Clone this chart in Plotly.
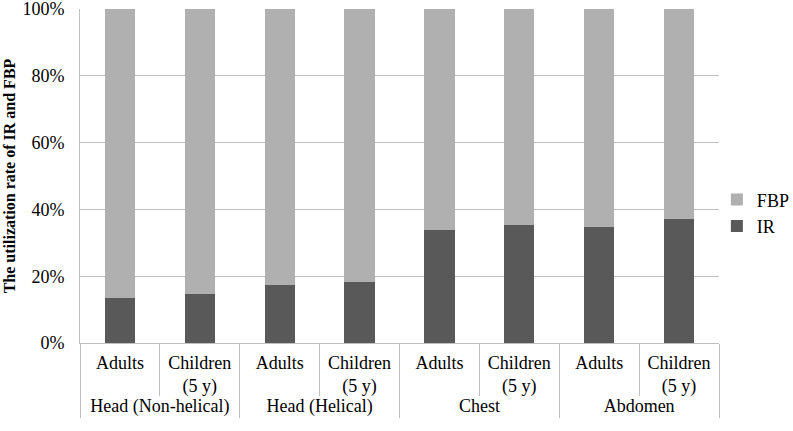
import plotly.graph_objects as go

groups = ["Head (Non-helical)", "Head (Non-helical)", "Head (Helical)", "Head (Helical)",
          "Chest", "Chest", "Abdomen", "Abdomen"]
subgroups = ["Adults", "Children<br>(5 y)"] * 4
ir = [0.136, 0.146, 0.174, 0.184, 0.337, 0.352, 0.347, 0.370]
fbp = [1 - v for v in ir]
y_ticks = [0, 0.2, 0.4, 0.6, 0.8, 1.0]
y_tick_text = ["0%", "20%", "40%", "60%", "80%", "100%"]

FONT = "Liberation Serif"
GRID = "#bfbfbf"

fig = go.Figure()
fig.add_trace(go.Bar(x=[groups, subgroups], y=ir, name="IR", marker_color="#595959",
                     marker_line_width=0))
fig.add_trace(go.Bar(x=[groups, subgroups], y=fbp, name="FBP", marker_color="#b0b0b0",
                     marker_line_width=0))

fig.update_layout(
    barmode="stack",
    bargap=0.62,
    width=793, height=431,
    margin=dict(l=80, r=74, t=9, b=88, autoexpand=False),
    paper_bgcolor="white", plot_bgcolor="white",
    font=dict(family=FONT, size=18, color="#000000"),
    showlegend=True,
    legend=dict(traceorder="reversed", xref="container", yref="container",
                x=0.904, y=0.506, xanchor="left", yanchor="middle",
                font=dict(family=FONT, size=18), itemwidth=30,
                bgcolor="rgba(0,0,0,0)"),
)
fig.update_yaxes(range=[0, 1], tickvals=y_ticks, ticktext=y_tick_text,
                 showgrid=True, gridcolor=GRID, gridwidth=1, automargin=False,
                 showline=True, linecolor=GRID, linewidth=1, zeroline=False,
                 ticks="", ticklabelstandoff=11, ticklabeloverflow="allow",
                 tickfont=dict(family=FONT, size=18),
                 title=dict(text="<b>The utilization rate of IR and FBP</b>",
                            font=dict(family=FONT, size=16), standoff=2))
fig.update_xaxes(type="multicategory", showline=True, linecolor=GRID, linewidth=1,
                 automargin=False,
                 ticks="outside", tickson="boundaries", ticklen=52, tickcolor=GRID,
                 ticklabelstandoff=3,
                 showdividers=True, dividercolor=GRID, dividerwidth=1,
                 tickfont=dict(family=FONT, size=18), showgrid=False)

fig.write_html("out.html", config={"displayModeBar": False},
               post_script="document.body.style.margin='0';")
